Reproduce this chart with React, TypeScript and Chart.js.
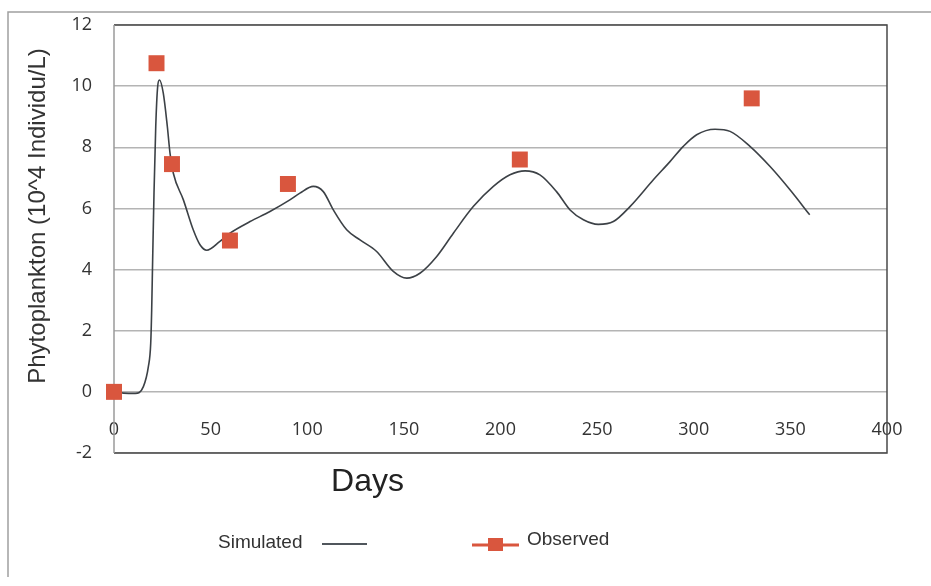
import React, { useEffect, useRef } from "react";
import { Chart, registerables } from "chart.js";

Chart.register(...registerables);

// Simulated phytoplankton (days, 10^4 individu/L)
const simDays = [0, 5, 11, 15.2, 17.8, 19, 19.5, 20, 20.7, 21.6, 22.6, 23.5, 25.5, 27.6, 29, 30.7, 35.9, 41, 44.5, 48, 54.8, 60, 70.4, 80.7, 91, 96.2, 103.1, 108.3, 113.5, 120.4, 127.3, 135.9, 144.5, 151.5, 158.3, 167, 175.6, 185.9, 196.3, 204.9, 212.7, 220.4, 229, 236, 242.9, 250.6, 258.4, 267, 279, 287.7, 294.6, 301.5, 311, 318.8, 329.1, 339.5, 349.8, 360];
const simValues = [0, -0.04, -0.05, 0.17, 0.83, 1.59, 2.68, 4.32, 6.5, 8.68, 9.99, 10.2, 9.77, 8.68, 7.8, 7.15, 6.28, 5.3, 4.81, 4.63, 4.92, 5.19, 5.57, 5.9, 6.28, 6.5, 6.72, 6.55, 5.95, 5.3, 4.97, 4.59, 3.94, 3.72, 3.88, 4.43, 5.19, 6.06, 6.72, 7.1, 7.23, 7.1, 6.55, 5.95, 5.63, 5.48, 5.57, 6.06, 6.93, 7.53, 8.03, 8.41, 8.59, 8.52, 8.03, 7.37, 6.61, 5.79];

// Observed phytoplankton
const obsDays = [0, 22, 30, 60, 90, 210, 330];
const obsValues = [0, 10.75, 7.45, 4.95, 6.8, 7.6, 9.6];

const xTicks = [0, 50, 100, 150, 200, 250, 300, 350, 400];
const yTicks = [-2, 0, 2, 4, 6, 8, 10, 12];

const yTitle = "Phytoplankton (10^4 Individu/L)";
const xTitle = "Days";
const simLabel = "Simulated";
const obsLabel = "Observed";

const LINE_COLOR = "#3c4146";
const MARK_COLOR = "#d9563e";
const GRID_COLOR = "#b4b4b4";
const FRAME_COLOR = "#4a4a4a";

const decorPlugin = {
  id: "decor",
  beforeDatasetsDraw(chart: any) {
    const { ctx, chartArea } = chart;
    const { left, top, right, bottom } = chartArea;
    ctx.save();
    // outer frame
    ctx.strokeStyle = "#a0a0a0";
    ctx.lineWidth = 1.5;
    ctx.beginPath();
    ctx.moveTo(8, 577);
    ctx.lineTo(8, 12);
    ctx.lineTo(931, 12);
    ctx.stroke();
    // plot border
    ctx.strokeStyle = FRAME_COLOR;
    ctx.lineWidth = 1.5;
    ctx.beginPath();
    ctx.moveTo(left, top);
    ctx.lineTo(right, top);
    ctx.lineTo(right, bottom);
    ctx.lineTo(left, bottom);
    ctx.stroke();
    ctx.strokeStyle = "#9a9a9a";
    ctx.beginPath();
    ctx.moveTo(left, top);
    ctx.lineTo(left, bottom);
    ctx.stroke();
    ctx.restore();
  },
  afterDraw(chart: any) {
    const { ctx, chartArea } = chart;
    const { left, right } = chartArea;
    ctx.save();
    // y title
    ctx.fillStyle = "#333";
    ctx.font = "24px 'Liberation Sans', Arial, sans-serif";
    ctx.textAlign = "center";
    ctx.textBaseline = "middle";
    ctx.translate(38, 216);
    ctx.rotate(-Math.PI / 2);
    ctx.fillText(yTitle, 0, 0);
    ctx.restore();

    ctx.save();
    ctx.fillStyle = "#222";
    ctx.font = "32px 'Liberation Sans', Arial, sans-serif";
    ctx.textAlign = "center";
    ctx.textBaseline = "alphabetic";
    ctx.fillText(xTitle, left + (right - left) * 0.328, 491);

    // legend
    ctx.font = "19px 'Liberation Sans', Arial, sans-serif";
    ctx.fillStyle = "#333";
    ctx.textAlign = "left";
    ctx.fillText(simLabel, 218, 548);
    ctx.strokeStyle = "#50565c";
    ctx.lineWidth = 2;
    ctx.beginPath();
    ctx.moveTo(322, 544);
    ctx.lineTo(367, 544);
    ctx.stroke();

    ctx.strokeStyle = MARK_COLOR;
    ctx.lineWidth = 3;
    ctx.beginPath();
    ctx.moveTo(472, 545);
    ctx.lineTo(519, 545);
    ctx.stroke();
    ctx.fillStyle = MARK_COLOR;
    ctx.fillRect(488, 538, 15, 13);
    ctx.fillStyle = "#333";
    ctx.fillText(obsLabel, 527, 545);
    ctx.restore();
  },
};

export default function App() {
  const ref = useRef<HTMLCanvasElement | null>(null);
  useEffect(() => {
    if (!ref.current) return;
    const chart = new Chart(ref.current, {
      type: "scatter",
      data: {
        datasets: [
          {
            label: obsLabel,
            data: obsDays.map((d, i) => ({ x: d, y: obsValues[i] })),
            showLine: false,
            pointStyle: "rect",
            pointRadius: 11.3,
            pointBackgroundColor: MARK_COLOR,
            pointBorderColor: MARK_COLOR,
            pointBorderWidth: 0,
            clip: false as any,
            order: 0,
          },
          {
            label: simLabel,
            data: simDays.map((d, i) => ({ x: d, y: simValues[i] })),
            showLine: true,
            borderColor: LINE_COLOR,
            borderWidth: 1.6,
            pointRadius: 0,
            cubicInterpolationMode: "monotone",
            order: 1,
          },
        ],
      },
      options: {
        animation: false,
        responsive: false,
        maintainAspectRatio: false,
        layout: { padding: { left: 0, top: 25, right: 44, bottom: 133 } },
        plugins: {
          legend: { display: false },
          tooltip: { enabled: false },
        },
        scales: {
          x: {
            type: "linear",
            min: 0,
            max: 400,
            position: { y: 0 } as any,
            afterBuildTicks: (scale: any) => {
              scale.ticks = xTicks.map((v) => ({ value: v }));
            },
            afterFit: (scale: any) => {
              scale.paddingLeft = 0;
              scale.paddingRight = 0;
            },
            grid: { display: false, drawTicks: false },
            border: { display: false },
            ticks: {
              padding: 27,
              color: "#333",
              font: { family: "'Open Sans', sans-serif", size: 18 },
              maxRotation: 0,
              autoSkip: false,
            },
          },
          y: {
            type: "linear",
            min: -2,
            max: 12,
            afterBuildTicks: (scale: any) => {
              scale.ticks = yTicks.map((v) => ({ value: v }));
            },
            afterFit: (scale: any) => {
              scale.width = 114;
              scale.paddingTop = 0;
              scale.paddingBottom = 0;
            },
            grid: { color: GRID_COLOR, lineWidth: 1.5, drawTicks: false },
            border: { display: false },
            ticks: {
              padding: 22,
              color: "#333",
              font: { family: "'Open Sans', sans-serif", size: 18 },
            },
          },
        },
      },
      plugins: [decorPlugin],
    });
    return () => chart.destroy();
  }, []);
  return (
    <div style={{ position: "fixed", left: 0, top: 0, width: 931, height: 586, background: "#fff" }}>
      <canvas ref={ref} width={931} height={586} style={{ width: 931, height: 586 }} />
    </div>
  );
}
